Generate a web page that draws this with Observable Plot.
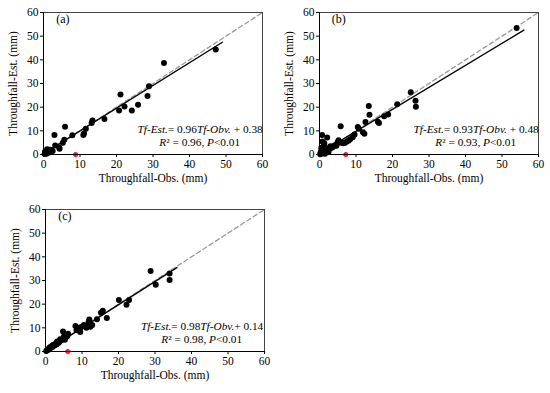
<!DOCTYPE html>
<html><head><meta charset="utf-8">
<script src="https://cdn.jsdelivr.net/npm/d3@7"></script>
<script src="https://cdn.jsdelivr.net/npm/@observablehq/plot@0.6"></script>
<style>
body{margin:0;background:#fff;}
#wrap{position:relative;width:550px;height:393px;overflow:hidden;background:#fff;}
#wrap svg{position:absolute;}
#wrap svg, #wrap svg text{font-family:"Liberation Serif","Times New Roman",serif !important;}
</style></head><body><div id="wrap"></div>
<script>
// ---- data ----
const panelLabels = ["(a)", "(b)", "(c)"];
const xTicks = [0, 10, 20, 30, 40, 50, 60];
const yTicks = [0, 10, 20, 30, 40, 50, 60];

const obsA = [47.2,33.0,28.9,28.5,25.9,24.2,22.2,21.1,20.7,16.7,13.4,13.2,11.6,11.1,10.9,7.9,5.9,5.7,5.3,3.0,3.2,4.3,4.4,2.2,1.8,1.4,1.0,0.9,0.6,0.3,0.8,1.5,2.5,0.4];
const estA = [44.4,38.7,28.8,24.7,21.0,18.6,20.3,25.4,18.6,15.0,14.4,13.3,10.9,8.9,8.2,8.1,11.7,6.2,5.0,8.2,3.8,3.0,2.4,1.8,2.0,1.5,2.2,1.0,0.6,0.2,0.3,0.8,1.5,1.2];

const obsB = [54.0,25.0,26.3,26.4,21.3,18.8,17.7,16.3,16.0,13.5,13.7,12.6,11.9,12.3,10.8,10.5,9.6,9.1,8.4,8.0,7.5,7.0,6.5,6.0,5.8,5.2,5.0,4.8,4.6,4.2,3.8,3.5,3.2,3.0,2.7,2.4,2.1,2.0,1.8,1.6,1.4,1.2,1.0,0.9,0.8,0.7,0.6,0.5,0.4,0.3,0.2,1.1,1.5,2.5,0.8,1.3,0.5];
const estB = [53.5,26.3,22.7,20.2,21.2,16.9,16.2,13.3,13.8,20.5,16.8,13.7,9.4,8.8,10.9,11.6,8.5,7.3,6.4,5.9,5.5,5.0,4.8,5.0,11.9,6.0,5.2,4.4,3.7,3.9,3.5,3.0,2.8,3.5,2.4,2.0,7.2,1.6,2.6,1.2,3.5,4.5,2.0,3.0,1.0,8.2,0.5,1.8,0.3,0.8,0.1,0.5,0.3,1.2,5.5,4.8,2.8];

const obsC = [28.8,30.2,34.0,34.0,20.1,22.2,22.9,15.2,15.7,16.8,14.1,12.0,11.8,12.8,12.3,11.2,10.5,9.8,9.4,8.8,8.5,8.2,9.5,6.2,5.8,5.5,5.0,4.8,4.5,4.2,4.0,3.8,3.5,3.2,3.0,2.8,2.5,2.2,2.0,1.8,1.5,1.2,1.0,0.8,0.6,0.4,0.2,6.0,5.3];
const estC = [34.0,28.2,33.0,30.2,21.8,19.8,21.8,16.4,17.2,14.2,13.6,13.5,12.5,11.2,10.5,10.0,11.2,10.4,9.8,10.0,9.0,10.8,8.2,7.5,6.6,5.8,6.2,8.4,5.0,4.6,5.2,4.0,3.6,4.2,3.0,3.4,2.6,2.8,2.0,2.4,1.6,1.8,1.0,1.2,0.6,0.5,0.2,6.5,5.0];

const slopes = [0.96, 0.93, 0.98];
const intercepts = [0.38, 0.48, 0.14];
const fitMax = [49, 56, 36];
const r2 = [0.96, 0.93, 0.98];
const pText = ["P<0.01", "P<0.01", "P<0.01"];
const redX = [8.8, 7.2, 6.1];
const plusSep = [" + ", " + ", "+ "];

const xLabel = "Throughfall-Obs. (mm)";
const yLabel = "Throughfall-Est. (mm)";

// ---- layout ----
const places = [{left: 0, top: 0}, {left: 276, top: 0}, {left: 2, top: 197}];
const obsAll = [obsA, obsB, obsC];
const estAll = [estA, estB, estC];
const FONT = '"Liberation Serif", "Times New Roman", serif';

const wrap = document.getElementById("wrap");

for (let i = 0; i < 3; i++) {
  const pts = obsAll[i].map((o, k) => ({obs: o, est: estAll[i][k]}));
  const a = slopes[i], b = intercepts[i];
  const fit = [{x: 0, y: b}, {x: fitMax[i], y: a * fitMax[i] + b}];
  const oneToOne = [{x: 0, y: 0}, {x: 60, y: 60}];
  const eq = `Tf-Est.= ${a.toFixed(2)}Tf-Obv.${plusSep[i]}${b.toFixed(2)}`;
  const rs = `R² = ${r2[i].toFixed(2)}, ${pText[i]}`;
  const svg = Plot.plot({
    width: 272, height: 190,
    marginLeft: 43, marginTop: 12, marginRight: 10, marginBottom: 36,
    style: {fontFamily: FONT, fontSize: "11.5px", color: "#000", background: "transparent"},
    x: {domain: [0, 60]},
    y: {domain: [0, 60]},
    marks: [
      Plot.line(oneToOne, {x: "x", y: "y", stroke: "#999", strokeWidth: 1.3, strokeDasharray: "4.5,3"}),
      Plot.line(fit, {x: "x", y: "y", stroke: "#000", strokeWidth: 1.4}),
      Plot.dot(pts, {x: "obs", y: "est", r: 3, fill: "#000", stroke: "none"}),
      Plot.dot([{x: redX[i], y: 0}], {x: "x", y: "y", r: 2.5, fill: "#ff1a1a", stroke: "none"}),
      Plot.frame({stroke: "#444", strokeWidth: 1}),
      Plot.axisX({ticks: xTicks, tickSize: 3, tickPadding: 2, fontSize: 11.5, fontFamily: FONT, label: xLabel, labelAnchor: "center", labelArrow: "none", labelOffset: 27}),
      Plot.axisY({ticks: yTicks, tickSize: 3, tickPadding: 2, fontSize: 11.5, fontFamily: FONT, label: yLabel, labelAnchor: "center", labelArrow: "none", labelOffset: 35}),
      Plot.ruleX([0], {stroke: "#000"}),
      Plot.ruleY([0], {stroke: "#000"}),
      Plot.text([{x: 5.3, y: 57.3, t: panelLabels[i]}], {x: "x", y: "y", text: "t", fontSize: 12, fontFamily: FONT, fill: "#000"}),
      Plot.text([{x: 42.9, y: 10.6, t: eq}], {x: "x", y: "y", text: "t", fontSize: 11.3, fontFamily: FONT, fill: "#000"}),
      Plot.text([{x: 42.8, y: 5.2, t: rs}], {x: "x", y: "y", text: "t", fontSize: 11.3, fontFamily: FONT, fill: "#000"})
    ]
  });
  svg.style.left = places[i].left + "px";
  svg.style.top = places[i].top + "px";
  // mixed italic styling
  d3.select(svg).selectAll("text").each(function () {
    const t = this.textContent;
    let parts = null;
    if (t.startsWith("Tf-Est.")) {
      const m = t.match(/^Tf-Est\.(= [\d.]+)Tf-Obv\.(.*)$/);
      if (m) parts = [["Tf-Est.", true], [m[1], false], ["Tf-Obv.", true], [m[2], false]];
    } else if (t.startsWith("R²")) {
      const m = t.match(/^R(² = [\d.]+, )P(.*)$/);
      if (m) parts = [["R", true], [m[1], false], ["P", true], [m[2], false]];
    }
    if (parts) {
      this.textContent = "";
      for (const [s, it] of parts) {
        d3.select(this).append("tspan").attr("font-style", it ? "italic" : "normal").text(s);
      }
    }
  });
  wrap.appendChild(svg);
}
</script></body></html>
